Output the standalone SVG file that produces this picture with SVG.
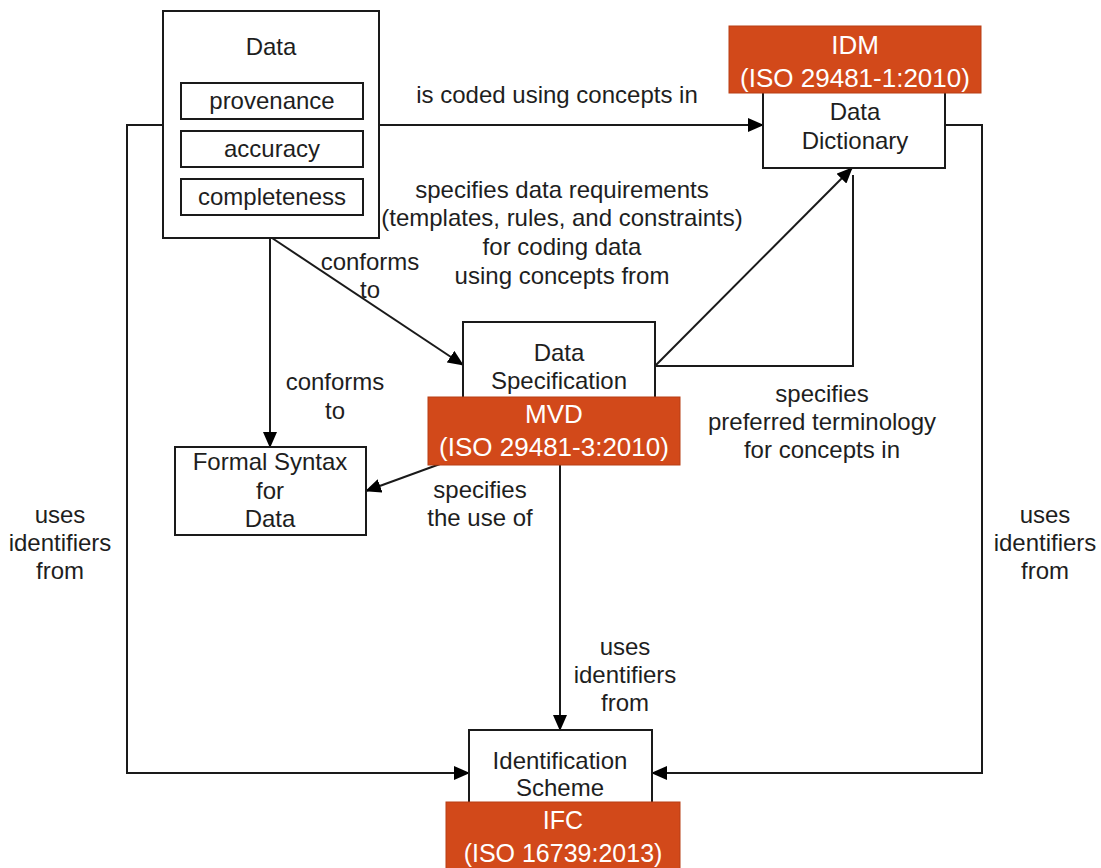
<svg xmlns="http://www.w3.org/2000/svg" width="1101" height="868" viewBox="0 0 1101 868">
<defs>
<style>
.box{fill:#fff;stroke:#1a1a1a;stroke-width:2}
.std{fill:#D2491A;stroke:#B83E14;stroke-width:1}
.t{font-family:"Liberation Sans",Arial,sans-serif;font-size:24px;fill:#1e1e1e;text-anchor:middle}
.w{font-family:"Liberation Sans",Arial,sans-serif;font-size:26px;fill:#fff;text-anchor:middle}
.c{fill:none;stroke:#1a1a1a;stroke-width:2}
</style>
<marker id="ah" markerUnits="userSpaceOnUse" markerWidth="16" markerHeight="14" refX="15" refY="7" orient="auto" viewBox="0 0 16 14">
<path d="M0,0 L16,7 L0,14 z" fill="#000"/>
</marker>
</defs>
<rect width="1101" height="868" fill="#fff"/>

<g id="connectors">
<line class="c" x1="379" y1="125" x2="763" y2="125" marker-end="url(#ah)"/>
<line class="c" x1="270" y1="238" x2="270" y2="447" marker-end="url(#ah)"/>
<line class="c" x1="272" y1="238" x2="463" y2="365" marker-end="url(#ah)"/>
<line class="c" x1="655" y1="366" x2="852" y2="168" marker-end="url(#ah)"/>
<polyline class="c" points="655,366 853,366 853,175"/>
<line class="c" x1="440" y1="464" x2="366" y2="491" marker-end="url(#ah)"/>
<line class="c" x1="560" y1="465" x2="560" y2="730" marker-end="url(#ah)"/>
<polyline class="c" points="163,125 127,125 127,773 469,773" marker-end="url(#ah)"/>
<polyline class="c" points="945,125 982,125 982,773 652,773" marker-end="url(#ah)"/>
<text class="t" x="557" y="103">is coded using concepts in</text>
<text class="t" x="562" y="198">specifies data requirements</text>
<text class="t" x="562" y="226">(templates, rules, and constraints)</text>
<text class="t" x="562" y="255">for coding data</text>
<text class="t" x="562" y="284">using concepts from</text>
<text class="t" x="370" y="270">conforms</text>
<text class="t" x="370" y="298">to</text>
<text class="t" x="335" y="390">conforms</text>
<text class="t" x="335" y="419">to</text>
<text class="t" x="822" y="402">specifies</text>
<text class="t" x="822" y="430">preferred terminology</text>
<text class="t" x="822" y="458">for concepts in</text>
<text class="t" x="480" y="498">specifies</text>
<text class="t" x="480" y="526">the use of</text>
<text class="t" x="60" y="523">uses</text>
<text class="t" x="60" y="551">identifiers</text>
<text class="t" x="60" y="579">from</text>
<text class="t" x="1045" y="523">uses</text>
<text class="t" x="1045" y="551">identifiers</text>
<text class="t" x="1045" y="579">from</text>
<text class="t" x="625" y="655">uses</text>
<text class="t" x="625" y="683">identifiers</text>
<text class="t" x="625" y="711">from</text>
</g>

<g id="data">
<rect class="box" x="163" y="11" width="216" height="227"/>
<text class="t" x="271" y="55">Data</text>
<rect class="box" x="181" y="83" width="182" height="36"/>
<text class="t" x="272" y="109">provenance</text>
<rect class="box" x="181" y="131" width="182" height="36"/>
<text class="t" x="272" y="157">accuracy</text>
<rect class="box" x="181" y="179" width="182" height="36"/>
<text class="t" x="272" y="205">completeness</text>
</g>

<g id="data-dictionary">
<rect class="box" x="763" y="80" width="182" height="88"/>
<text class="t" x="855" y="120">Data</text>
<text class="t" x="855" y="149">Dictionary</text>
</g>

<g id="idm">
<rect class="std" x="729" y="26" width="252" height="67"/>
<text class="w" x="855" y="54">IDM</text>
<text class="w" x="855" y="87">(ISO 29481-1:2010)</text>
</g>

<g id="data-specification">
<rect class="box" x="463" y="322" width="192" height="90"/>
<text class="t" x="559" y="361">Data</text>
<text class="t" x="559" y="389">Specification</text>
</g>

<g id="mvd">
<rect class="std" x="428" y="397" width="252" height="68"/>
<text class="w" x="554" y="423">MVD</text>
<text class="w" x="554" y="456">(ISO 29481-3:2010)</text>
</g>

<g id="formal-syntax">
<rect class="box" x="175" y="447" width="191" height="88"/>
<text class="t" x="270" y="470">Formal Syntax</text>
<text class="t" x="270" y="499">for</text>
<text class="t" x="270" y="527">Data</text>
</g>

<g id="identification-scheme">
<rect class="box" x="469" y="730" width="183" height="85"/>
<text class="t" x="560" y="769">Identification</text>
<text class="t" x="560" y="796">Scheme</text>
</g>

<g id="ifc">
<rect class="std" x="446" y="802" width="234" height="70"/>
<text class="w" x="563" y="829" style="font-size:25px">IFC</text>
<text class="w" x="563" y="862" style="font-size:25px">(ISO 16739:2013)</text>
</g>
</svg>
